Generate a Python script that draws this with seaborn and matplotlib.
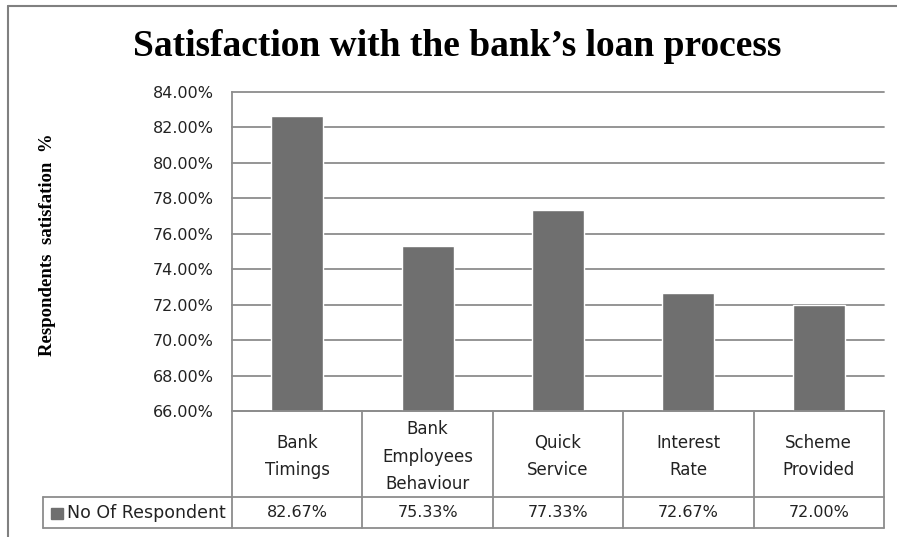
import matplotlib
matplotlib.use("Agg")
import numpy as np
import pandas as pd
import seaborn as sns
import matplotlib.pyplot as plt
from matplotlib.ticker import FuncFormatter
from matplotlib.lines import Line2D
from matplotlib.patches import Rectangle
from matplotlib.transforms import blended_transform_factory

# ---- data ----
categories = ["Bank\nTimings", "Bank\nEmployees\nBehaviour", "Quick\nService",
              "Interest\nRate", "Scheme\nProvided"]
satisfaction = [82.67, 75.33, 77.33, 72.67, 72.00]
series_name = "No Of Respondent"
y_ticks = [66, 68, 70, 72, 74, 76, 78, 80, 82, 84]
title = "Satisfaction with the bank\u2019s loan process"
y_label = "Respondents  satisfation  %"

BAR = "#6f6f6f"
LINE = "#8c8c8c"
TEXT = "#222222"

sns.set_theme(style="white")
plt.rcParams["font.family"] = ["DejaVu Sans"]

W, H = 897, 537
fig = plt.figure(figsize=(W / 100, H / 100), dpi=100)
fig.patch.set_facecolor("white")


def fx(px):
    return px / W


def fy(py):
    return 1 - py / H


# plot area
L, R, T, B = 232, 884, 92, 411
ax = fig.add_axes([fx(L), fy(B), fx(R) - fx(L), fy(T) - fy(B)])
df = pd.DataFrame({"category": categories, "value": satisfaction})
sns.barplot(data=df, x="category", y="value", color=BAR, width=0.4,
            saturation=1, ax=ax)
ax.set_xlim(-0.5, len(categories) - 0.5)
ax.set_ylim(y_ticks[0], y_ticks[-1])
ax.set_yticks(y_ticks)
ax.yaxis.set_major_formatter(FuncFormatter(lambda v, _: f"{v:.2f}%"))
ax.grid(axis="y", color=LINE, lw=1.3)
for gl in ax.get_ygridlines():
    gl.set_clip_on(False)
ax.set_axisbelow(True)
for s in ["top", "right"]:
    ax.spines[s].set_visible(False)
for s in ["left", "bottom"]:
    ax.spines[s].set_color(LINE)
    ax.spines[s].set_linewidth(1.3)
ax.tick_params(axis="y", length=0, pad=13, labelsize=11.5, labelcolor=TEXT)
ax.set_xticks([])
ax.set_xlabel("")
ax.set_ylabel("")

# data table beneath the plot area
axh = B - T
col_px = (R - L) / len(categories)
blend = blended_transform_factory(ax.transData, ax.transAxes)
r0 = 0.0
r1 = (B - 497) / axh
r2 = (B - 528) / axh
x_left = -0.5 - (L - 43) / col_px
x_right = len(categories) - 0.5
lkw = dict(color=LINE, lw=1.3, transform=blend, clip_on=False)
ax.plot([x_left, x_right], [r1, r1], **lkw)
ax.plot([x_left, x_right], [r2, r2], **lkw)
ax.plot([x_left, x_left], [r1, r2], **lkw)
for i in range(len(categories) + 1):
    xb = i - 0.5
    ax.plot([xb, xb], [r0, r2], **lkw)

for i, (cat, val) in enumerate(zip(categories, satisfaction)):
    ax.text(i, (r0 + r1) / 2 - 0.008, cat, transform=blend, ha="center",
            va="center", fontsize=12, color=TEXT, linespacing=1.7)
    ax.text(i, (r1 + r2) / 2, f"{val:.2f}%", transform=blend, ha="center",
            va="center", fontsize=11.5, color=TEXT)

# legend key in the table's row header
fig.patches.append(Rectangle((fx(51), fy(519)), fx(12), fy(508) - fy(519),
                             transform=fig.transFigure, color=BAR))
fig.text(fx(67), fy(513), series_name, ha="left", va="center",
         fontsize=12.5, color=TEXT)

# titles
fig.text(fx(457), fy(46), title, ha="center", va="center",
         family="Liberation Serif", weight="bold", fontsize=27, color="black")
fig.text(fx(47), fy(245), y_label, ha="center", va="center", rotation=90,
         family="Liberation Serif", weight="bold", fontsize=13.5, color="black")

# chart frame
fig.lines.append(Line2D([fx(8), 1], [fy(6), fy(6)], transform=fig.transFigure,
                        color="#808080", lw=1.5))
fig.lines.append(Line2D([fx(8), fx(8)], [fy(6), 0], transform=fig.transFigure,
                        color="#808080", lw=1.5))

fig.savefig("out.png", dpi=100, facecolor="white")
